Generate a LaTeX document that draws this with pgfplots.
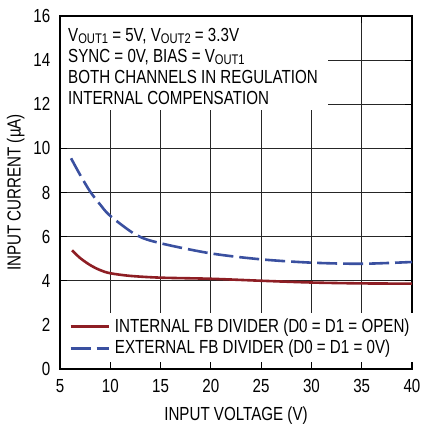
\documentclass[border=0pt]{standalone}
\usepackage{fontspec}
\setmainfont{Liberation Sans}[FakeStretch=0.8]
\usepackage{pgfplots}
\pgfplotsset{compat=1.18}

\definecolor{intred}{RGB}{142,30,36}
\definecolor{extblue}{RGB}{58,80,160}
\newcommand\sub[1]{\raisebox{-0.25ex}{\fontsize{14}{14}\selectfont #1}}

\begin{document}
\fontsize{19}{21}\selectfont
\begin{tikzpicture}
\begin{axis}[
    scale only axis,
    width=352bp, height=353bp,
    xmin=5, xmax=40, ymin=0, ymax=16,
    xtick={5,10,...,40},
    ytick={0,2,...,16},
    grid=major,
    major grid style={line width=0.9bp, black!85},
    axis line style={line width=1.6bp, black},
    major tick length=7bp,
    tick style={line width=0.9bp, black},
    /pgf/number format/assume math mode=true,
    tick label style={font=\fontsize{19}{21}\selectfont, inner sep=0pt},
    xticklabel style={anchor=north, yshift=-10bp},
    yticklabel style={anchor=east, xshift=-9.5bp},
    xlabel={INPUT VOLTAGE (V)},
    ylabel={INPUT CURRENT (µA)},
    label style={font=\fontsize{19}{21}\selectfont, inner sep=0pt},
    xlabel style={at={(axis description cs:0.5,-0.1465)}, anchor=base},
    ylabel style={at={(axis description cs:-0.1117,0.5)}, anchor=base},
    legend style={at={(axis cs:5.12,0.33)}, anchor=south west, draw=none,
        fill=white, font=\fontsize{19}{21}\selectfont,
        inner xsep=8bp, inner ysep=3bp, row sep=1bp},
    legend cell align=left,
    legend image code/.code={\draw[#1] (0bp,0bp) -- (38bp,0bp); \path (41bp,0bp);},
]
\coordinate (sw) at (rel axis cs:0,0);
\coordinate (ne) at (rel axis cs:1,1);

\fill[white] ([shift={(1bp,-1bp)}]rel axis cs:0,1) rectangle (axis cs:31.6,11.75);
\node[anchor=north west, align=left, inner sep=0pt, font=\fontsize{19}{21}\selectfont]
    at ([shift={(8bp,-12bp)}]rel axis cs:0,1)
    {V\sub{OUT1} = 5V, V\sub{OUT2} = 3.3V\\
     SYNC = 0V, BIAS = V\sub{OUT1}\\
     BOTH CHANNELS IN REGULATION\\
     INTERNAL COMPENSATION};

\addplot[intred, line width=2.6bp, smooth] coordinates {
    (6.2,5.38) (7,5.03) (8,4.71) (9,4.48) (10,4.34) (12,4.22) (15,4.14)
    (20,4.09) (25,4.0) (30,3.92) (35,3.88) (40,3.87)
};
\addlegendentry{INTERNAL FB DIVIDER (D0 = D1 = OPEN)}

\addplot[extblue, line width=2.6bp, smooth, dash pattern=on 20bp off 6bp] coordinates {
    (6.1,9.55) (7,8.8) (8,8.04) (9,7.45) (10,6.94) (12.6,6.07) (15,5.70)
    (20,5.24) (25,4.97) (30,4.82) (35,4.77) (40,4.85)
};
\addlegendentry{EXTERNAL FB DIVIDER (D0 = D1 = 0V)}
\end{axis}
\pgfresetboundingbox
\path ([shift={(-60bp,-56bp)}]sw) rectangle ([shift={(10bp,16bp)}]ne);
\end{tikzpicture}
\end{document}
